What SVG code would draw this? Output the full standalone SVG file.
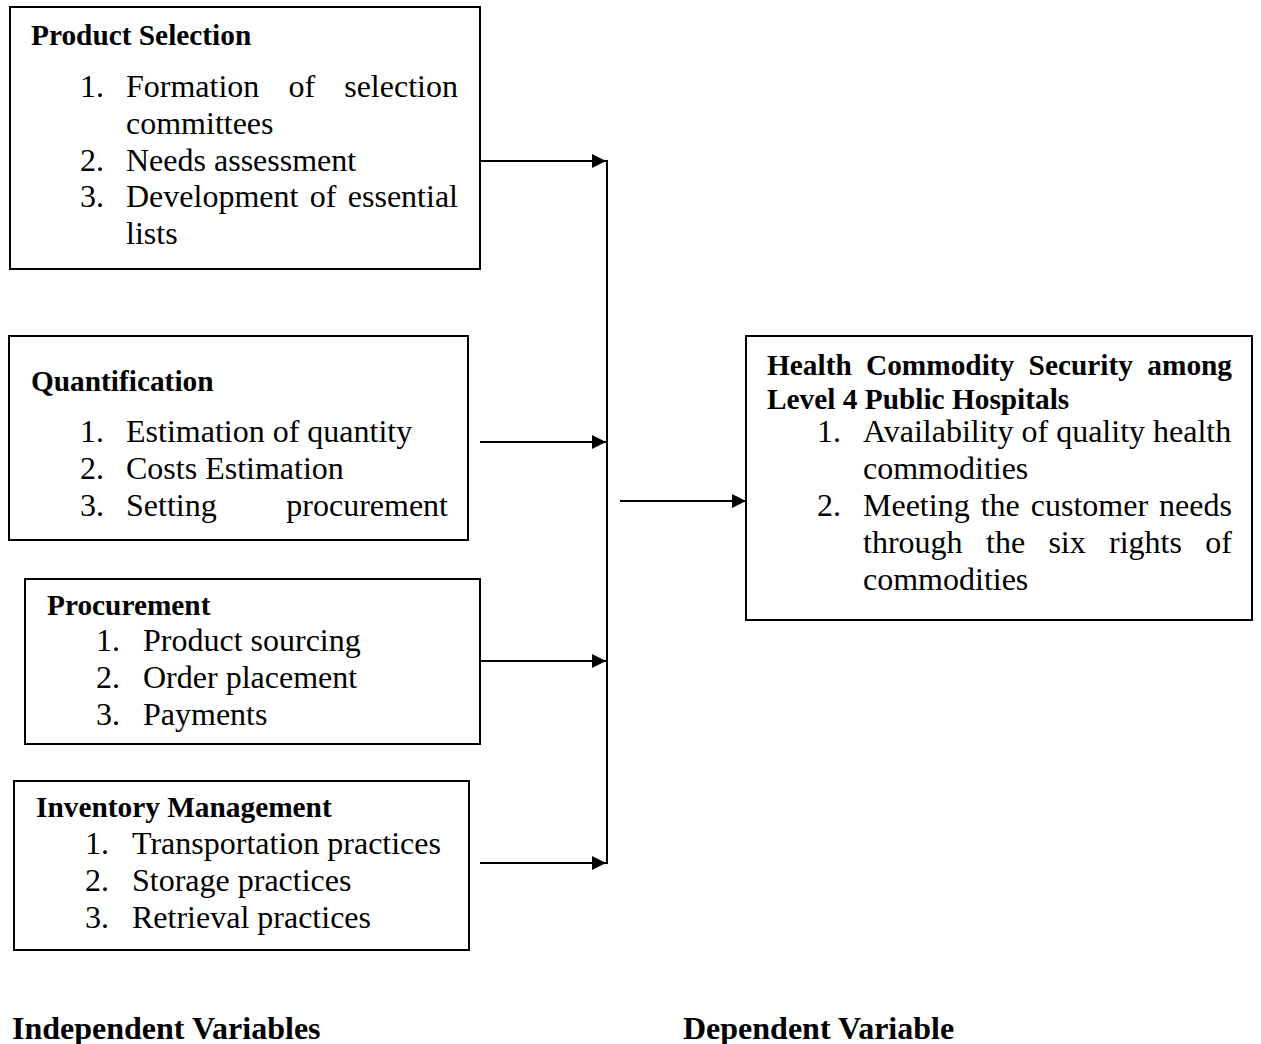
<svg xmlns="http://www.w3.org/2000/svg" width="1261" height="1044" viewBox="0 0 1261 1044">
<style>
.box{fill:#fff;stroke:#000;stroke-width:2}
.h{font-family:"Liberation Serif","Times New Roman",serif;font-weight:bold;font-size:29.33px;fill:#000}
.t{font-family:"Liberation Serif","Times New Roman",serif;font-size:32px;fill:#000}
.lbl{font-family:"Liberation Serif","Times New Roman",serif;font-weight:bold;font-size:32px;fill:#000}
.c{fill:none;stroke:#000;stroke-width:2}
</style>
<defs>
<marker id="ah" markerUnits="userSpaceOnUse" markerWidth="16" markerHeight="16" refX="14" refY="7" orient="auto">
<polygon points="0,0 14,7 0,14" fill="#000"/>
</marker>
</defs>
<rect width="1261" height="1044" fill="#fff"/>

<g id="product-selection">
<rect class="box" x="10" y="7" width="470" height="262"/>
<text class="h" x="31" y="45">Product Selection</text>
<text class="t" x="80" y="97">1.</text>
<text class="t" y="97"><tspan x="126">Formation</tspan><tspan x="288.5">of</tspan><tspan x="344.2">selection</tspan></text>
<text class="t" x="126" y="133.8">committees</text>
<text class="t" x="80" y="170.6">2.</text>
<text class="t" x="126" y="170.6">Needs assessment</text>
<text class="t" x="80" y="207.4">3.</text>
<text class="t" y="207.4"><tspan x="126">Development</tspan><tspan x="309.8">of</tspan><tspan x="347.8">essential</tspan></text>
<text class="t" x="126" y="244.2">lists</text>
</g>

<g id="quantification">
<rect class="box" x="9" y="336" width="459" height="204"/>
<text class="h" x="31" y="391">Quantification</text>
<text class="t" x="80" y="442">1.</text>
<text class="t" x="126" y="442">Estimation of quantity</text>
<text class="t" x="80" y="479">2.</text>
<text class="t" x="126" y="479">Costs Estimation</text>
<text class="t" x="80" y="516">3.</text>
<text class="t" y="516"><tspan x="126">Setting</tspan><tspan x="286.3">procurement</tspan></text>
</g>

<g id="procurement">
<rect class="box" x="25" y="579" width="455" height="165"/>
<text class="h" x="47" y="615">Procurement</text>
<text class="t" x="96" y="651">1.</text>
<text class="t" x="143" y="651">Product sourcing</text>
<text class="t" x="96" y="688">2.</text>
<text class="t" x="143" y="688">Order placement</text>
<text class="t" x="96" y="725">3.</text>
<text class="t" x="143" y="725">Payments</text>
</g>

<g id="inventory-management">
<rect class="box" x="14" y="781" width="455" height="169"/>
<text class="h" x="36" y="817">Inventory Management</text>
<text class="t" x="85" y="854">1.</text>
<text class="t" x="132" y="854">Transportation practices</text>
<text class="t" x="85" y="891">2.</text>
<text class="t" x="132" y="891">Storage practices</text>
<text class="t" x="85" y="928">3.</text>
<text class="t" x="132" y="928">Retrieval practices</text>
</g>

<g id="health-commodity-security">
<rect class="box" x="746" y="336" width="506" height="284"/>
<text class="h" y="375"><tspan x="767">Health</tspan><tspan x="866">Commodity</tspan><tspan x="1028.6">Security</tspan><tspan x="1147.3">among</tspan></text>
<text class="h" x="767" y="408.5">Level 4 Public Hospitals</text>
<text class="t" x="817" y="442">1.</text>
<text class="t" x="863" y="442">Availability of quality health</text>
<text class="t" x="863" y="479">commodities</text>
<text class="t" x="817" y="516">2.</text>
<text class="t" y="516"><tspan x="863">Meeting</tspan><tspan x="980.7">the</tspan><tspan x="1030.8">customer</tspan><tspan x="1159.1">needs</tspan></text>
<text class="t" y="553"><tspan x="863">through</tspan><tspan x="986">the</tspan><tspan x="1048.4">six</tspan><tspan x="1109">rights</tspan><tspan x="1205.3">of</tspan></text>
<text class="t" x="863" y="590">commodities</text>
</g>

<g id="connectors">
<line class="c" x1="480" y1="161" x2="606" y2="161" marker-end="url(#ah)"/>
<line class="c" x1="480" y1="442" x2="606" y2="442" marker-end="url(#ah)"/>
<line class="c" x1="480" y1="661" x2="606" y2="661" marker-end="url(#ah)"/>
<line class="c" x1="480" y1="863" x2="606" y2="863" marker-end="url(#ah)"/>
<line class="c" x1="607" y1="160" x2="607" y2="864"/>
<line class="c" x1="620" y1="501" x2="746" y2="501" marker-end="url(#ah)"/>
</g>

<g id="labels">
<text class="lbl" x="12" y="1039">Independent Variables</text>
<text class="lbl" x="683" y="1039">Dependent Variable</text>
</g>
</svg>
